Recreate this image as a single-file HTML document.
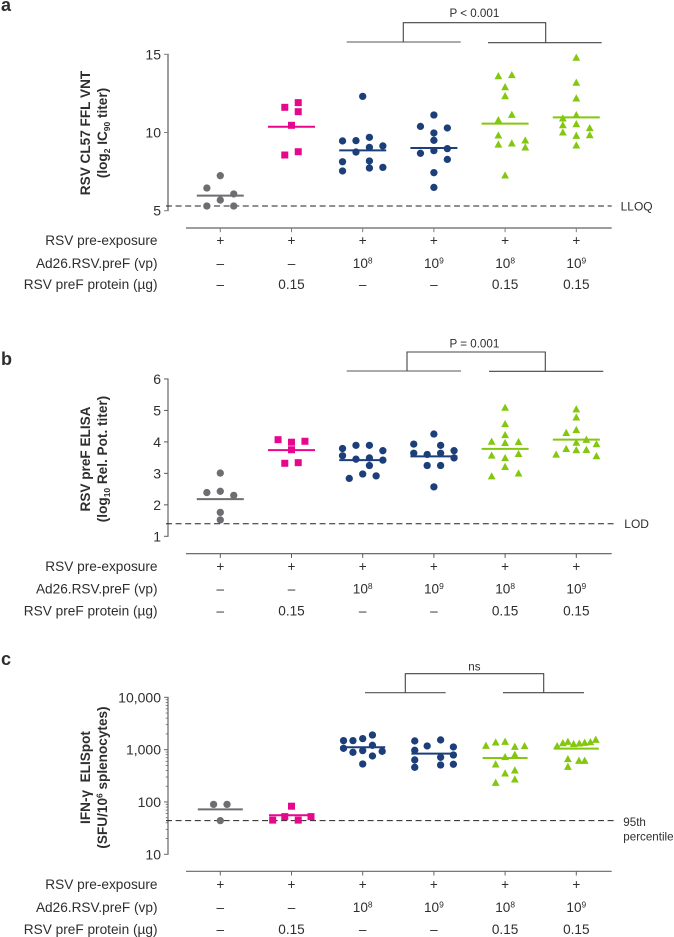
<!DOCTYPE html>
<html lang="en">
<head>
<meta charset="utf-8">
<title>RSV immunogenicity dot plots</title>
<style>
html,body{margin:0;padding:0;background:#fff;}
svg{display:block;font-family:"Liberation Sans",Arial,sans-serif;}
</style>
</head>
<body>
<svg id="chart" xmlns="http://www.w3.org/2000/svg" width="674" height="937" viewBox="0 0 674 937"></svg>
<script>
// Shared categories and condition rows
const groupNames = ['pre-exposure-only', 'protein-only', 'ad26-1e8', 'ad26-1e9', 'combo-1e8', 'combo-1e9'];
const groupShapes = ['circle', 'square', 'circle', 'circle', 'triangle', 'triangle'];
const groupColors = ['#6d6e71', '#e6078c', '#1c3f7a', '#1c3f7a', '#83c70f', '#83c70f'];
const rowTitles = ['RSV pre-exposure', 'Ad26.RSV.preF (vp)', 'RSV preF protein (µg)'];
const rowPreExposure = ['+', '+', '+', '+', '+', '+'];
const rowAdExponent = ['–', '–', '8', '9', '8', '9'];
const rowProtein = ['–', '0.15', '–', '–', '0.15', '0.15'];

// Panel a: log2 IC90 titer
const aTicks = [5, 10, 15];
const aThreshold = 5.3;
const aMeans = [5.96, 10.37, 8.86, 9.01, 10.57, 10.97];
const aValues0 = [7.24, 6.45, 6.07, 5.68, 5.30, 5.30];
const aLanes0 = [0, -2, 2, 0, -2, 2];
const aValues1 = [11.61, 11.91, 11.33, 10.46, 8.56, 8.77];
const aLanes1 = [-1, 1, 1, 0, -1, 1];
const aValues2 = [12.31, 9.46, 9.48, 9.69, 9.14, 9.05, 8.75, 8.13, 8.18, 7.73, 7.77, 7.54];
const aLanes2 = [0, -3, -1, 1, 3, 1, -1, -3, 1, 1, 3, -3];
const aValues3 = [11.12, 10.39, 10.29, 9.97, 9.50, 8.97, 8.67, 8.84, 8.28, 7.43, 6.49];
const aLanes3 = [0, -2, 2, 0, 0, 2, -2, 0, 2, 0, 0];
const aValues4 = [13.61, 13.68, 12.91, 12.33, 11.14, 10.80, 9.82, 9.50, 9.24, 9.31, 9.05, 7.26];
const aLanes4 = [-1, 1, 0, 0, 1, -1, -1, 3, -1, 1, 3, 0];
const aValues5 = [14.79, 13.19, 12.19, 11.12, 10.91, 10.48, 10.54, 10.29, 10.01, 9.80, 9.84, 9.18];
const aLanes5 = [0, 0, 0, 0, -2, -2, 0, 2, -2, 0, 2, 0];

// Panel b: log10 relative potency titer
const bTicks = [1, 2, 3, 4, 5, 6];
const bThreshold = 1.4;
const bMeans = [2.18, 3.74, 3.42, 3.54, 3.78, 4.07];
const bValues0 = [3.01, 2.39, 2.43, 2.30, 1.76, 1.52];
const bLanes0 = [0, -2, 0, 2, 0, 0];
const bValues1 = [4.07, 3.99, 4.02, 3.75, 3.32, 3.34];
const bLanes1 = [-2, 0, 2, 0, -1, 1];
const bValues2 = [3.89, 3.89, 3.79, 3.72, 3.56, 3.45, 3.49, 3.42, 3.25, 2.98, 2.92, 2.84];
const bLanes2 = [-1, 1, -3, 3, -3, -1, 1, 3, 1, 0, 2, -2];
const bValues3 = [4.25, 3.93, 3.89, 3.72, 3.64, 3.60, 3.64, 3.49, 3.25, 3.25, 2.57];
const bLanes3 = [0, -3, 1, 3, -3, -1, 1, 3, -1, 1, 0];
const bValues4 = [5.09, 4.57, 4.22, 4.01, 3.97, 4.00, 3.57, 3.62, 3.49, 3.21, 3.00, 2.91];
const bLanes4 = [0, 0, 0, -2, 0, 2, -2, 2, 0, 0, 2, -2];
const bValues5 = [5.04, 4.78, 4.29, 4.38, 4.07, 3.98, 3.93, 3.78, 3.74, 3.75, 3.60, 3.55];
const bLanes5 = [0, 0, -1.5, 0, 1.5, 0, 3, -1.5, 0, 1.5, -3, 3];

// Panel c: SFU per 10^6 splenocytes (log axis)
const cTicks = [10, 100, 1000, 10000];
const cTickLabels = ['10', '100', '1,000', '10,000'];
const cThreshold = 44;
const cMeans = [72, 55.6, 1109, 839, 693, 1045];
const cValues0 = [90, 90, 44];
const cLanes0 = [-1, 1, 0];
const cValues1 = [83, 52.5, 52.5, 45, 45];
const cLanes1 = [0, -1, 2.9, -2.8, 1];
const cValues2 = [1905, 1623, 1486, 1486, 1211, 1060, 957, 889, 929, 757, 532];
const cLanes2 = [1.45, 0, -1.45, -2.85, 1.45, -2.85, 0, -1.45, 2.9, 1.45, 0];
const cValues3 = [1531, 1465, 1175, 971, 1125, 790, 714, 635, 525, 509, 459];
const cLanes3 = [1, -2.85, -1, -2.85, 2.9, 2.9, 1, -2.85, 2.9, 1, -2.85];
const cValues4 = [1380, 1422, 1192, 1140, 1175, 725, 802, 525, 353, 403, 271, 234];
const cLanes4 = [-1.4, 0, -2.85, 1.45, 2.9, 0, 1.45, -1.4, 0, 1.45, 1.45, -1.4];
const cValues5 = [1175, 1340, 1422, 1283, 1321, 1361, 1400, 1552, 664, 617, 617, 473];
const cLanes5 = [-2.85, -2, -1.25, -0.4, 0.45, 1.25, 2.1, 2.9, -1.25, 0.4, 1.25, -1.25];

const NS = 'http://www.w3.org/2000/svg';
const root = document.getElementById('chart');
const TEXT = '#2e2e2e';
const LANE = 6.72;

function xPos(i) { return 220.3 + i * 71.2; }

function node(tag, attrs, parent) {
  const el = document.createElementNS(NS, tag);
  for (const k in attrs) el.setAttribute(k, attrs[k]);
  (parent || root).appendChild(el);
  return el;
}

function line(x1, y1, x2, y2, stroke, width, name, parent) {
  const el = node('line', { x1: x1, y1: y1, x2: x2, y2: y2, stroke: stroke, 'stroke-width': width }, parent);
  
  
  return el;
}

function label(str, x, y, size, anchor, name, weight, parent) {
  const el = node('text', { x: x, y: y, 'font-size': size, 'text-anchor': anchor, fill: TEXT }, parent);
  if (weight) el.setAttribute('font-weight', weight);
  el.textContent = str;
  
  
  return el;
}

// parts: plain strings, or [string, shift] for sub/superscripts
function richLabel(parts, x, y, size, anchor, name, weight, rotate, parent) {
  const el = node('text', { x: x, y: y, 'font-size': size, 'text-anchor': anchor, fill: TEXT }, parent);
  if (weight) el.setAttribute('font-weight', weight);
  if (rotate) el.setAttribute('transform', 'rotate(-90 ' + x + ' ' + y + ')');
  let prev = 0;
  parts.forEach(function (p) {
    const shift = Array.isArray(p) ? p[1] : 0;
    const t = node('tspan', { dy: shift - prev }, el);
    if (Array.isArray(p)) t.setAttribute('font-size', size * 0.62);
    t.textContent = Array.isArray(p) ? p[0] : p;
    prev = shift;
  });
  
  
  return el;
}

function marker(shape, cx, cy, color, name, parent) {
  let el;
  if (shape === 'circle') {
    el = node('circle', { cx: cx, cy: cy, r: 3.65, fill: color }, parent);
  } else if (shape === 'square') {
    el = node('rect', { x: cx - 3.5, y: cy - 3.5, width: 7, height: 7, fill: color }, parent);
  } else {
    const pts = [cx, cy - 4, cx + 3.9, cy + 3.2, cx - 3.9, cy + 3.2].join(' ');
    el = node('polygon', { points: pts, fill: color }, parent);
  }
  
  
  return el;
}

function drawPanel(p) {
  const g = node('g', {});
  
  
  const yScale = p.yScale;

  label(p.id, 1, p.letterY, 18, 'start', 'panel-letter-' + p.id, 'bold', g);

  // y axis
  const axisX = 168;
  line(axisX, yScale(p.ticks[0]), axisX, yScale(p.ticks[p.ticks.length - 1]), p.axisColor, p.axisWidth, 'y-axis-line', g);
  p.ticks.forEach(function (t, i) {
    const y = yScale(t);
    line(axisX - 4, y, axisX + p.axisWidth / 2, y, p.axisColor, 1, 'y-tick', g);
    label(p.tickLabels ? p.tickLabels[i] : String(t), 161, y + 5, 14, 'end', 'y-tick-label', null, g);
  });
  if (p.minorTicks) {
    for (let i = 0; i < p.ticks.length - 1; i++) {
      for (let m = 2; m < 10; m++) {
        line(axisX - 2.3, yScale(p.ticks[i] * m), axisX, yScale(p.ticks[i] * m), p.axisColor, 0.8, 'y-minor-tick', g);
      }
    }
  }

  // y title
  richLabel(p.title1, 90, p.titleY, 13.6, 'middle', 'y-axis-title', 'bold', true, g);
  richLabel(p.title2, 107.2, p.titleY, 13.6, 'middle', 'y-axis-subtitle', 'bold', true, g);

  // threshold line
  const th = line(166, yScale(p.threshold), p.thresholdEnd, yScale(p.threshold), '#222', 1, 'threshold-line', g);
  th.setAttribute('stroke-dasharray', '6 3.6');
  p.thresholdLabels.forEach(function (t) {
    label(t[0], t[1], t[2], t[3], 'start', 'threshold-label', null, g);
  });

  // marks
  p.series.forEach(function (values, i) {
    const cx = xPos(i);
    line(cx - p.meanHalf, yScale(p.means[i]), cx + p.meanHalf, yScale(p.means[i]), groupColors[i], 2, 'mean-line-' + groupNames[i], g);
    values.forEach(function (v, j) {
      marker(groupShapes[i], cx + p.lanes[i][j] * LANE, yScale(v), groupColors[i], 'point-' + groupNames[i], g);
    });
  });

  // x axis
  line(186, p.xAxisY, 611.7, p.xAxisY, p.axisColor, p.axisWidth, 'x-axis-line', g);
  groupNames.forEach(function (name, i) {
    line(xPos(i), p.xAxisY, xPos(i), p.xAxisY + 4.2, p.axisColor, 1, 'x-tick', g);
  });

  // condition rows
  rowTitles.forEach(function (t, r) {
    label(t, 157.5, p.rowY[r], 13.65, 'end', 'row-title', null, g);
  });
  groupNames.forEach(function (name, i) {
    label(rowPreExposure[i], xPos(i), p.rowY[0], 13.6, 'middle', 'pre-exposure-value', null, g);
    if (rowAdExponent[i] === '–') {
      label('–', xPos(i), p.rowY[1], 13.6, 'middle', 'ad26-dose-value', null, g);
    } else {
      richLabel(['10', [rowAdExponent[i], -4.5]], xPos(i), p.rowY[1], 13.6, 'middle', 'ad26-dose-value', null, false, g);
    }
    label(rowProtein[i], xPos(i), p.rowY[2], 13.6, 'middle', 'protein-dose-value', null, g);
  });

  // comparison bracket
  const b = p.bracket;
  line(b.l1, b.yL, b.l2, b.yL, '#555', 1.1, 'bracket-left-bar', g);
  line(b.r1, b.yR, b.r2, b.yR, '#444', 1.1, 'bracket-right-bar', g);
  const path = node('path', { d: 'M' + b.vl + ' ' + b.yL + 'V' + b.top + 'H' + b.vr + 'V' + b.yR, fill: 'none', stroke: '#444', 'stroke-width': 1.1 }, g);
  
  
  label(b.text, 474.4, b.textY, 11.6, 'middle', 'significance-label', null, g);
}

drawPanel({
  id: 'a', letterY: 11, ticks: aTicks, threshold: aThreshold, thresholdEnd: 611.7,
  yScale: function (v) { return 210.7 - (v - 5) * 15.64; },
  axisColor: '#7d7d7d', axisWidth: 1.5, xAxisY: 228, titleY: 133, meanHalf: 23.5,
  title1: ['RSV CL57 FFL VNT'],
  title2: ['(log', ['2', 3], ' IC', ['90', 3], ' titer)'],
  thresholdLabels: [['LLOQ', 620.6, 210.3, 12]],
  rowY: [245.2, 267.8, 288.8],
  means: aMeans,
  series: [aValues0, aValues1, aValues2, aValues3, aValues4, aValues5],
  lanes: [aLanes0, aLanes1, aLanes2, aLanes3, aLanes4, aLanes5],
  bracket: { l1: 346.7, l2: 460.7, yL: 42, r1: 488, r2: 601.7, yR: 42.7, top: 22.7, vl: 403.3, vr: 545.7, text: 'P < 0.001', textY: 17 }
});

drawPanel({
  id: 'b', letterY: 365, ticks: bTicks, threshold: bThreshold, thresholdEnd: 615.7,
  yScale: function (v) { return 536.3 - (v - 1) * 31.47; },
  axisColor: '#5a5a5a', axisWidth: 1.1, xAxisY: 553.7, titleY: 459, meanHalf: 23.5,
  title1: ['RSV preF ELISA'],
  title2: ['(log', ['10', 3], ' Rel. Pot. titer)'],
  thresholdLabels: [['LOD', 624.3, 528, 12]],
  rowY: [570.8, 593.4, 615.3],
  means: bMeans,
  series: [bValues0, bValues1, bValues2, bValues3, bValues4, bValues5],
  lanes: [bLanes0, bLanes1, bLanes2, bLanes3, bLanes4, bLanes5],
  bracket: { l1: 346.7, l2: 461, yL: 371, r1: 489, r2: 603.3, yR: 371.3, top: 352, vl: 407, vr: 545.3, text: 'P = 0.001', textY: 347.7 }
});

drawPanel({
  id: 'c', letterY: 665, ticks: cTicks, tickLabels: cTickLabels, threshold: cThreshold, thresholdEnd: 615.7,
  yScale: function (v) { return 854.3 - (Math.log10(v) - 1) * 52.33; },
  axisColor: '#666', axisWidth: 1.2, minorTicks: true, xAxisY: 871.3, titleY: 777.5, meanHalf: 22.5,
  title1: ['IFN-γ\u00a0\u00a0ELISpot'],
  title2: ['(SFU/10', ['6', -4.5], ' splenocytes)'],
  thresholdLabels: [['95th', 623.3, 826, 11.6], ['percentile', 623.3, 840.3, 11.6]],
  rowY: [889, 911.8, 933.8],
  means: cMeans,
  series: [cValues0, cValues1, cValues2, cValues3, cValues4, cValues5],
  lanes: [cLanes0, cLanes1, cLanes2, cLanes3, cLanes4, cLanes5],
  bracket: { l1: 365, l2: 445.7, yL: 692.7, r1: 503, r2: 584, yR: 692.7, top: 673.7, vl: 405.3, vr: 543.7, text: 'ns', textY: 670.7 }
});
</script>
</body>
</html>
